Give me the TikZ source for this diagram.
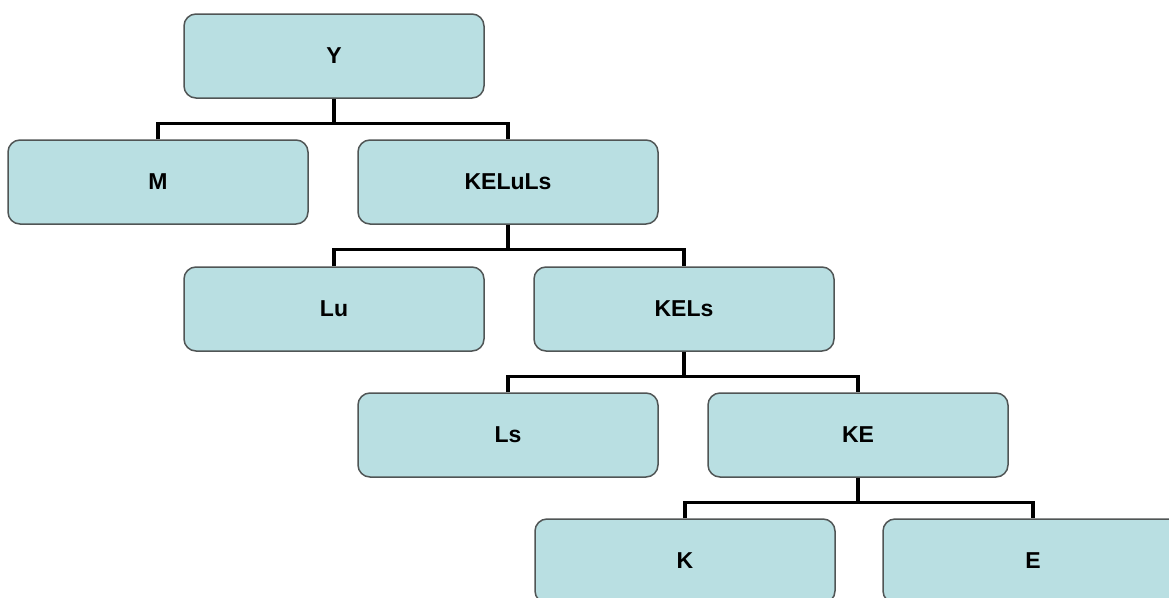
\documentclass[tikz,border=0pt]{standalone}
\usepackage{fontspec}
\setmainfont{Liberation Sans}
\definecolor{boxfill}{RGB}{185,223,226}
\definecolor{boxline}{RGB}{80,85,85}
\begin{document}
\begin{tikzpicture}[x=1pt,y=-1pt,
  tbox/.style={draw=boxline, line width=1.5pt, fill=boxfill, rounded corners=12pt,
    minimum width=300pt, minimum height=84pt, inner sep=0pt,
    font=\fontsize{23}{26}\selectfont\bfseries},
  link/.style={draw=black, line width=3.2pt}]
\clip (0,0) rectangle (1169,597);
\fill[white] (0,0) rectangle (1169,597);
\node[tbox] (Y) at (334,56) {Y};
\node[tbox] (M) at (158,182) {M};
\node[tbox] (KELuLs) at (508,182) {KELuLs};
\node[tbox] (Lu) at (334,309) {Lu};
\node[tbox] (KELs) at (684,309) {KELs};
\node[tbox] (Ls) at (508,435) {Ls};
\node[tbox] (KE) at (858,435) {KE};
\node[tbox] (K) at (685,561) {K};
\node[tbox] (E) at (1033,561) {E};
\foreach \p/\a/\b in {Y/M/KELuLs, KELuLs/Lu/KELs, KELs/Ls/KE, KE/K/E}{
  \coordinate (\p-bar) at ([yshift=-25pt]\p.south);
  \draw[link] (\p.south) -- (\p-bar);
  \draw[link, line join=miter] (\a.north) |- (\p-bar) -| (\b.north);
}
\end{tikzpicture}
\end{document}
